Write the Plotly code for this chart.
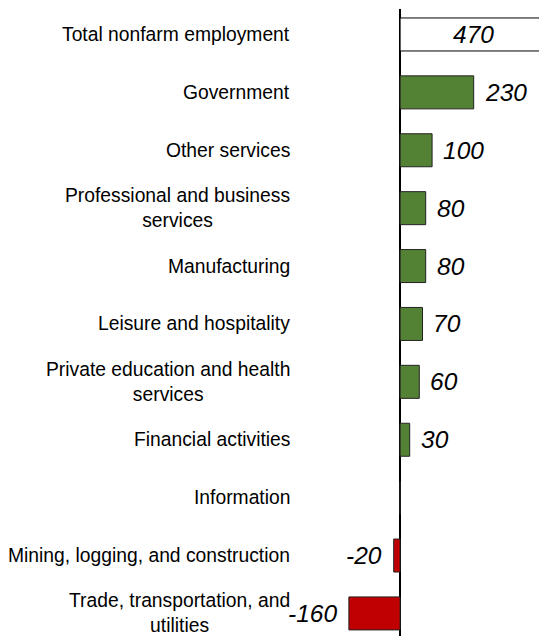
import plotly.graph_objects as go

categories = [
    "Total nonfarm employment",
    "Government",
    "Other services",
    "Professional and business<br>services",
    "Manufacturing",
    "Leisure and hospitality",
    "Private education and health<br>services",
    "Financial activities",
    "Information",
    "Mining, logging, and construction",
    "Trade, transportation, and<br>utilities",
]
values = [470, 230, 100, 80, 80, 70, 60, 30, 0, -20, -160]
value_labels = ["470", "230", "100", "80", "80", "70", "60", "30", "", "-20", "-160"]

# the page body adds an 8px margin, so the figure is 8px smaller than the window
X_MIN, X_MAX = -1225, 459
LABEL_X = -337
GREEN, RED = "#548235", "#C00000"

fills = []
for i, v in enumerate(values):
    if i == 0:
        fills.append("white")
    elif v >= 0:
        fills.append(GREEN)
    else:
        fills.append(RED)
edges = ["black" if i == 0 else "#222222" for i in range(len(values))]

fig = go.Figure(go.Bar(
    y=categories, x=values, orientation="h",
    width=0.57,
    marker=dict(color=fills, line=dict(color=edges, width=1)),
    hoverinfo="skip",
))

# category labels, centred lines, right aligned block
for cat in categories:
    fig.add_annotation(
        x=LABEL_X, y=cat, xref="x", yref="y", text=cat,
        xanchor="right", yanchor="middle", align="center",
        showarrow=False,
        font=dict(family="Arial, Liberation Sans", size=19.3, color="black"),
    )

# value labels
for i, (cat, v, lab) in enumerate(zip(categories, values, value_labels)):
    if not lab:
        continue
    if i == 0:
        # total bar runs off the chart: label centred in the visible part
        x, anchor, shift = (0 + X_MAX) / 2, "center", 0
    elif v >= 0:
        x, anchor, shift = v, "left", 9
    else:
        x, anchor, shift = v, "right", -10
    fig.add_annotation(
        x=x, y=cat, xref="x", yref="y", text=f"<i>{lab}</i>",
        xanchor=anchor, yanchor="middle", xshift=shift, showarrow=False,
        font=dict(family="Arial, Liberation Sans", size=24.5, color="black"),
    )

fig.update_layout(
    width=539, height=628,
    margin=dict(l=0, r=0, t=1, b=0),
    paper_bgcolor="white", plot_bgcolor="white",
    showlegend=False,
    xaxis=dict(range=[X_MIN, X_MAX], showgrid=False, showticklabels=False,
               ticks="", zeroline=True, zerolinecolor="black",
               zerolinewidth=1.5),
    yaxis=dict(range=[10.39, -0.44], showgrid=False, showticklabels=False,
               ticks="", zeroline=False),
)

fig.write_html("out.html")
